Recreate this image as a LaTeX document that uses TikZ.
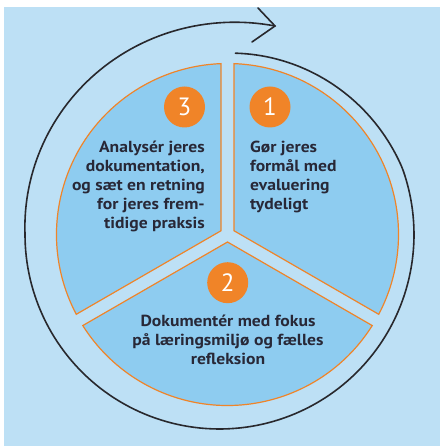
\documentclass[tikz,border=0pt]{standalone}
\usepackage{fontspec}
\newfontfamily\ptsans{PT Sans}[FakeStretch=1.1]
\newfontfamily\numfont{PT Sans}
\definecolor{bgblue}{RGB}{189,224,245}
\definecolor{secblue}{RGB}{142,204,240}
\definecolor{orng}{RGB}{240,132,40}
\definecolor{ringline}{RGB}{40,40,45}
\definecolor{txt}{RGB}{40,40,55}
\tikzset{
  sector/.style={fill=secblue, draw=orng, line width=1.2pt, line join=miter},
  num/.style={circle, fill=orng, minimum size=41pt, inner sep=0pt, text=white,
    font=\numfont\fontsize{25}{25}\selectfont},
  lbl/.style={inner sep=0pt, text=txt, font=\ptsans\bfseries\fontsize{16}{19}\selectfont},
  ring/.style={draw=ringline, line width=1.6pt, line cap=round}
}
\begin{document}
\begin{tikzpicture}[x=1pt,y=1pt]
\useasboundingbox (0,0) rectangle (440,446);
\fill[white] (0,0) rectangle (440,446);
\fill[bgblue] (4,0) rectangle (440,439);
% sectors
\begin{scope}[shift={(227.5,211.5)}]
  \foreach \b in {30,150,270}
    \draw[sector] (\b:7.5) -- (\b+57.82:171) arc[start angle=\b+57.82, end angle=\b-57.82, radius=171] -- cycle;
\end{scope}
% spiral ring with arrow
\coordinate (tip) at (275,420);
\draw[ring, variable=\t, domain=85:-284.9, samples=220]
  plot ({219.5+(194.5-12.5*max(0,(\t-20)/65)+21.3*(0.6*max(0,(-180-\t)/104.9)+0.4*max(0,(-180-\t)/104.9)^2))*cos(\t)},
        {211.5+(194.5-12.5*max(0,(\t-20)/65)+21.3*(0.6*max(0,(-180-\t)/104.9)+0.4*max(0,(-180-\t)/104.9)^2))*sin(\t)});
\draw[ring, line join=miter] (tip) ++(-17,18) -- (tip) -- ++(-23,-16);
% numbers
\node[num] (n1) at (270,339) {1};
\node[num] (n3) at (184.5,339) {3};
\node[num] (n2) at (227.7,163.3) {2};
% texts
\node[lbl, align=left, anchor=north west] (t1) at (250,305) {Gør jeres\\formål med\\evaluering\\tydeligt};
\node[lbl, align=right, anchor=north east] (t3) at (205,305) {Analysér jeres\\dokumentation,\\og sæt en retning\\for jeres frem-\\tidige praksis};
\node[lbl, align=center, anchor=north] (t2) at (228,131) {Dokumentér med fokus\\på læringsmiljø og fælles\\refleksion};
\end{tikzpicture}
\end{document}
